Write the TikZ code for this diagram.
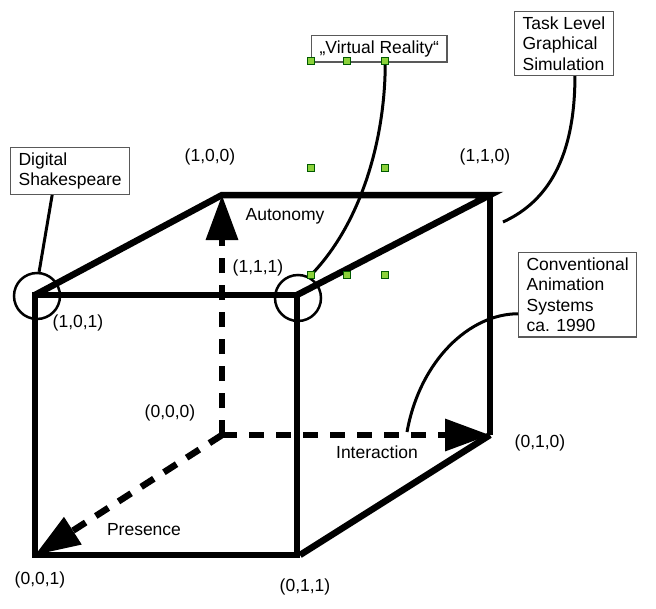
\documentclass[tikz,border=0pt]{standalone}
\usepackage{fontspec}
\setmainfont{Liberation Sans}
\usetikzlibrary{arrows.meta}
\definecolor{handlegreen}{RGB}{139,209,58}

\begin{document}
\begin{tikzpicture}[x=1pt, y=-1pt,
  font=\fontsize{17.5}{20.5}\selectfont,
  edge/.style={line width=6.5pt, line join=miter},
  axis/.style={line width=6.5pt, dash pattern=on 15pt off 12pt, -{Triangle[length=45pt,width=31pt]}},
  note/.style={draw=black!65, line width=1.2pt, align=left, anchor=north west, inner xsep=8pt, inner ysep=5pt},
  lead/.style={line width=3pt},
  ring/.style={draw, line width=2.5pt, circle, minimum size=46pt, inner sep=0pt},
  handle/.style={draw=green!35!black, line width=0.6pt, fill=handlegreen, minimum size=7pt, inner sep=0pt}]
\useasboundingbox (0,0) rectangle (656,608);

% cube corners
\coordinate (p101) at (35,295);
\coordinate (p111) at (297,295);
\coordinate (p001) at (35,555);
\coordinate (p011) at (297,555);
\coordinate (p100) at (222,195);
\coordinate (p110) at (490,195);
\coordinate (p010) at (490,435);
\coordinate (p000) at (222,435);

%------------------------------------------------------
% axes
\draw[axis] (p000) -- (p100);
\draw[axis] (p000) -- (p010);
\draw[axis] (p000) -- (p001);

% edges
\draw[edge] (p101) rectangle (p011);
\draw[edge] (p101) -- (p100) -- (p110) -- (p111);
\draw[edge] (p110) -- (p010);
\draw[edge] ([xshift=3pt]p011) -- (p010);

% circles
\node[ring] (c101) at (37,296) {};
\node[ring] (c111) at (298,298) {};

% corner labels
\node (l100) at (210,157) {(1,0,0)};
\node (l110) at (485,157) {(1,1,0)};
\node (l111) at (258,268) {(1,1,1)};
\node (l101) at (78,323) {(1,0,1)};
\node (l000) at (170,413) {(0,0,0)};
\node (l010) at (540,443) {(0,1,0)};
\node (l001) at (40,580) {(0,0,1)};
\node (l011) at (305,587) {(0,1,1)};

% axis names
\node (auto) at (285,216) {Autonomy};
\node (inter) at (377,452) {Interaction};
\node (pres) at (144,530) {Presence};

%------------------------------------------------------
% notes
\node[note] (dig) at (10,147) {Digital\\Shakespeare};
\node[note] (vr) at (311,35) {„Virtual Reality“};
\node[note] (task) at (514,11) {Task Level\\Graphical\\Simulation};
\node[note] (conv) at (518,252) {Conventional\\Animation\\Systems\\ca. 1990};

\coordinate (taskend) at (503,222);
\coordinate (convend) at (407,432);

% leads
\draw[lead] ([xshift=-18pt]dig.south) -- (c101.85);
\draw[lead] ([xshift=6pt]vr.south) .. controls +(0,80) and +(50,-50) .. (c111.62);
\draw[lead] ([xshift=11pt]task.south) .. controls +(0,92) and +(37,-17) .. (taskend);
\draw[lead] ([yshift=-19pt]conv.west) .. controls +(-48,0) and +(13,-72) .. (convend);

% handles
\foreach \hx/\hy in {311/61, 347/61, 385/61, 311/168, 385/168, 311/275, 347/275, 385/275}
  \node[handle] (h\hx-\hy) at (\hx,\hy) {};

\end{tikzpicture}
\end{document}
